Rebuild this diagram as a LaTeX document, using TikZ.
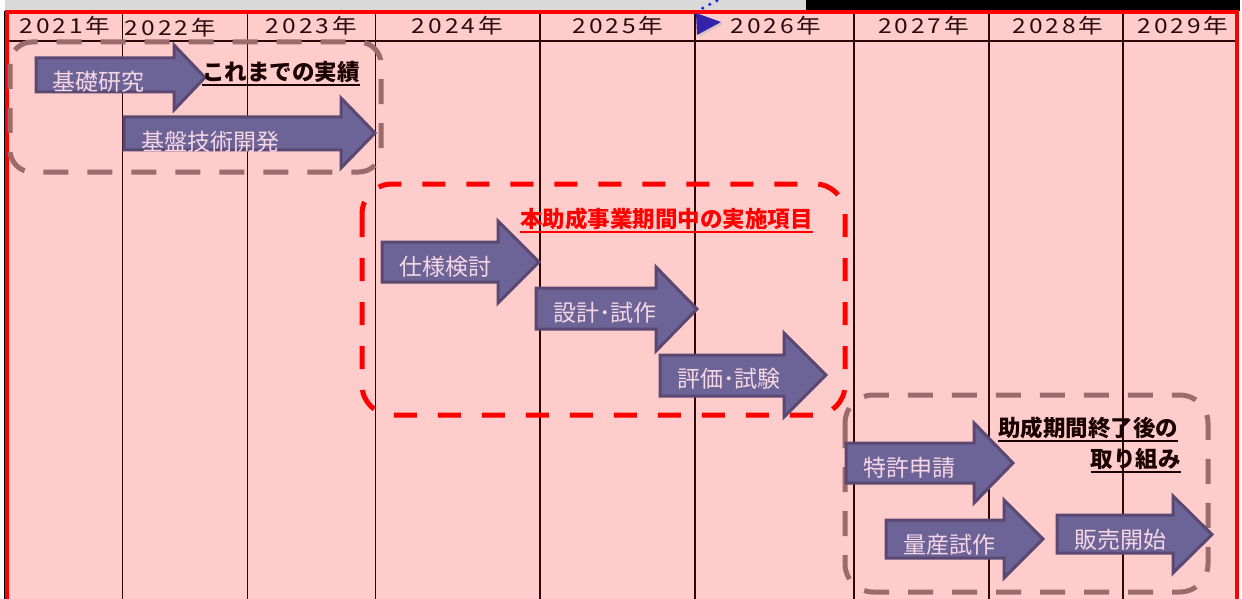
\documentclass[tikz,border=0pt]{standalone}
\usepackage{fontspec}
\usepackage{graphicx}
\setmainfont{Noto Sans CJK JP}
\newfontfamily\yearfont[LetterSpace=12]{Noto Sans CJK JP}
\usetikzlibrary{arrows.meta}
\definecolor{pinkbg}{HTML}{FFCCCC}
\definecolor{gridc}{HTML}{2E0808}
\definecolor{boxgray}{HTML}{9B6A6A}
\definecolor{arrfill}{HTML}{6C6496}
\definecolor{arrline}{HTML}{5A4872}
\definecolor{arrtext}{HTML}{F7D6E6}
\definecolor{hdrtext}{HTML}{2A0A0A}
\definecolor{lbltext}{HTML}{1A0000}
\definecolor{topgray}{HTML}{D9D9D9}
\definecolor{dotblue}{HTML}{1030E0}
\definecolor{tipblue}{HTML}{3322AA}
\newcommand{\barrow}[7]{%
  \path[arrowshape] (#1,#2) -- (#4,#2) -- (#4,#5) -- (#7,{(#5+#6)/2}) -- (#4,#6) -- (#4,#3) -- (#1,#3) -- cycle;}
\newcommand{\yrtxt}[1]{\scalebox{1.2}[1]{#1}}
\begin{document}
\begin{tikzpicture}[x=1pt,y=-1pt,
  gridline/.style={draw=gridc,line width=1.8pt},
  graybox/.style={draw=boxgray,line width=5pt,rounded corners=22pt,dash pattern=on 25pt off 19pt},
  redbox/.style={draw=red,line width=5pt,rounded corners=30pt,dash pattern=on 23pt off 21pt},
  arrowshape/.style={fill=arrfill,draw=arrline,line width=3pt,line join=miter},
  arrlabel/.style={text=arrtext,inner sep=0pt,font=\fontsize{23}{27}\selectfont},
  yr/.style={text=hdrtext,inner sep=0pt,font=\yearfont\fontsize{20.5}{24}\selectfont},
  ttl/.style={inner sep=0pt,font=\bfseries\fontsize{22.5}{26}\selectfont},
  uline/.style={line width=1.6pt}]
\useasboundingbox (0,0) rectangle (1242,599);
\clip (0,0) rectangle (1242,599);
% top bands
\fill[topgray] (5,0) rectangle (806,11);
\fill[black] (806,0) rectangle (1240,11);
\fill[black] (3.5,11) rectangle (5.5,605);
% background sheet
\path[fill=pinkbg,draw=red,line width=4pt] (7,12.5) rectangle (1237,620);
% grid
\foreach \gx in {122.5,247.5,375.5,540,695,854,989,1123}
  \draw[gridline] (\gx,14.5) -- (\gx,605);
\draw[gridline] (9,41) -- (1235,41);
% year labels
\node[yr] (y2021) at (65,25.5) {\yrtxt{2021年}};
\node[yr] (y2022) at (170.5,28) {\yrtxt{2022年}};
\node[yr] (y2023) at (311.5,25.5) {\yrtxt{2023年}};
\node[yr] (y2024) at (457.5,25.5) {\yrtxt{2024年}};
\node[yr] (y2025) at (618,25.5) {\yrtxt{2025年}};
\node[yr] (y2026) at (776,25.5) {\yrtxt{2026年}};
\node[yr] (y2027) at (923.5,25.5) {\yrtxt{2027年}};
\node[yr] (y2028) at (1058,25.5) {\yrtxt{2028年}};
\node[yr] (y2029) at (1183,25.5) {\yrtxt{2029年}};
% dashed group boxes
\draw[graybox] (10,42) rectangle (381,172);
\draw[redbox] (362,184) rectangle (845,415);
\draw[graybox,rounded corners=28pt] (845,395) rectangle (1208,592);
% block arrows
\barrow{36}{58}{92}{174}{45}{110}{205}
\barrow{124}{117}{150}{341}{98}{168}{375}
\barrow{382}{242}{282}{498}{221}{303}{539}
\barrow{536}{288}{329}{656}{267}{351}{697}
\barrow{660}{355}{396}{784}{333}{417}{826}
\barrow{846}{443}{483}{974}{423}{503}{1013}
\barrow{886}{520}{558}{1004}{500}{578}{1043}
\barrow{1057}{515}{553}{1173}{496}{573}{1212}
% arrow labels
\node[arrlabel] (a1) at (98.5,82) {基礎研究};
\node[arrlabel] (a2) at (210,142) {基盤技術開発};
\node[arrlabel] (a3) at (445,267) {仕様検討};
\node[arrlabel] (a4) at (605,313) {設計･試作};
\node[arrlabel] (a5) at (729,379) {評価･試験};
\node[arrlabel] (a6) at (909,468) {特許申請};
\node[arrlabel] (a7) at (949.5,545) {量産試作};
\node[arrlabel] (a8) at (1120,540) {販売開始};
% section titles
\node[ttl,text=lbltext] (t1) at (281,72) {これまでの実績};
\draw[uline,lbltext] ([yshift=-2pt]t1.south west) -- ([yshift=-2pt]t1.south east);
\node[ttl,text=red] (t2) at (666.5,219) {本助成事業期間中の実施項目};
\draw[uline,red] ([yshift=-2pt]t2.south west) -- ([yshift=-2pt]t2.south east);
\node[ttl,text=lbltext] (t3) at (1088,428) {助成期間終了後の};
\draw[uline,lbltext] ([yshift=-2pt]t3.south west) -- ([yshift=-2pt]t3.south east);
\node[ttl,text=lbltext,anchor=east] (t4) at (1181,459) {取り組み};
\draw[uline,lbltext] ([yshift=-2pt]t4.south west) -- ([yshift=-2pt]t4.south east);
% stray blue connector end
\coordinate (bs) at (724,-3);
\coordinate (be) at (699,10);
\draw[dotblue,line width=3.5pt,line cap=round,dash pattern=on 0pt off 8pt] (bs) -- (be);
\fill[black!25,opacity=0.6] (698,15) -- (723,24) -- (699,37) -- cycle;
\fill[tipblue] (696,13) -- (721,22) -- (697,35) -- cycle;
\end{tikzpicture}
\end{document}
